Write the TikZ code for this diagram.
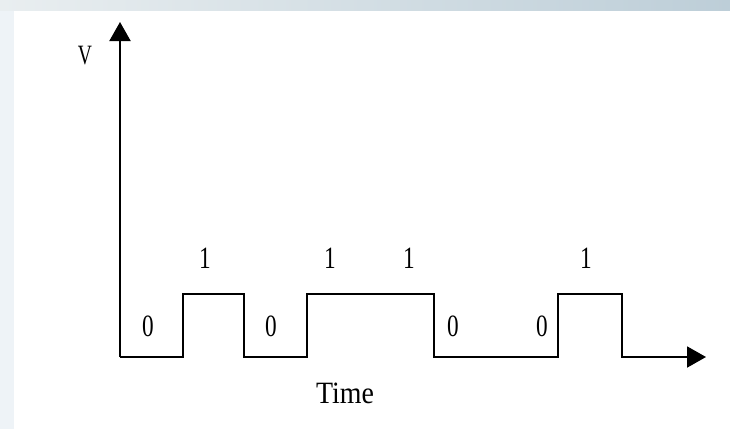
\documentclass[tikz,border=0pt]{standalone}
\usepackage{fontspec}
\setmainfont{Liberation Serif}
\usetikzlibrary{arrows.meta}
\definecolor{stripL}{HTML}{E9EEF0}
\definecolor{stripR}{HTML}{BDCED8}
\definecolor{sideB}{HTML}{EEF3F7}
\newcommand{\narrowtext}[2]{\scalebox{#1}[1]{#2}}
\tikzset{
  sig/.style={line width=2pt, line join=miter},
  axisarrow/.style={line width=2pt, -{Triangle[width=21pt,length=19pt]}},
  lbl/.style={inner sep=0pt, font=\fontsize{31}{31}\selectfont},
}
\begin{document}
\begin{tikzpicture}[x=1pt,y=-1pt]
  % background and margins
  \useasboundingbox (0,0) rectangle (730,429);
  \shade[left color=stripL, right color=stripR] (0,0) rectangle (730,11);
  \fill[sideB] (0,11) rectangle (14,429);
  \fill[white] (14,11) rectangle (730,429);
  % named points
  \coordinate (o) at (120,357);
  \coordinate (ytip) at (120,22);
  \coordinate (xtip) at (706,357);
  % axes
  \draw[axisarrow] (o) -- (ytip);
  % waveform with time axis
  \draw[sig] (o) -- (183,357) -- (183,294) -- (244,294) -- (244,357)
    -- (307,357) -- (307,294) -- (434,294) -- (434,357) -- (558,357)
    -- (558,294) -- (622,294) -- (622,357) -- (640,357);
  \draw[axisarrow] (621,357) -- (xtip);
  % labels
  \node[lbl, font=\fontsize{28}{28}\selectfont] (v) at (85,56) {\narrowtext{0.7}{V}};
  \node[lbl] (time) at (345,393) {\narrowtext{0.9}{Time}};
  \node[lbl] (b1) at (148,326) {\narrowtext{0.75}{0}};
  \node[lbl] (b2) at (205,258) {\narrowtext{0.75}{1}};
  \node[lbl] (b3) at (271,326) {\narrowtext{0.75}{0}};
  \node[lbl] (b4) at (330,258) {\narrowtext{0.75}{1}};
  \node[lbl] (b5) at (409,258) {\narrowtext{0.75}{1}};
  \node[lbl] (b6) at (453,326) {\narrowtext{0.75}{0}};
  \node[lbl] (b7) at (542,326) {\narrowtext{0.75}{0}};
  \node[lbl] (b8) at (586,258) {\narrowtext{0.75}{1}};
\end{tikzpicture}
\end{document}
